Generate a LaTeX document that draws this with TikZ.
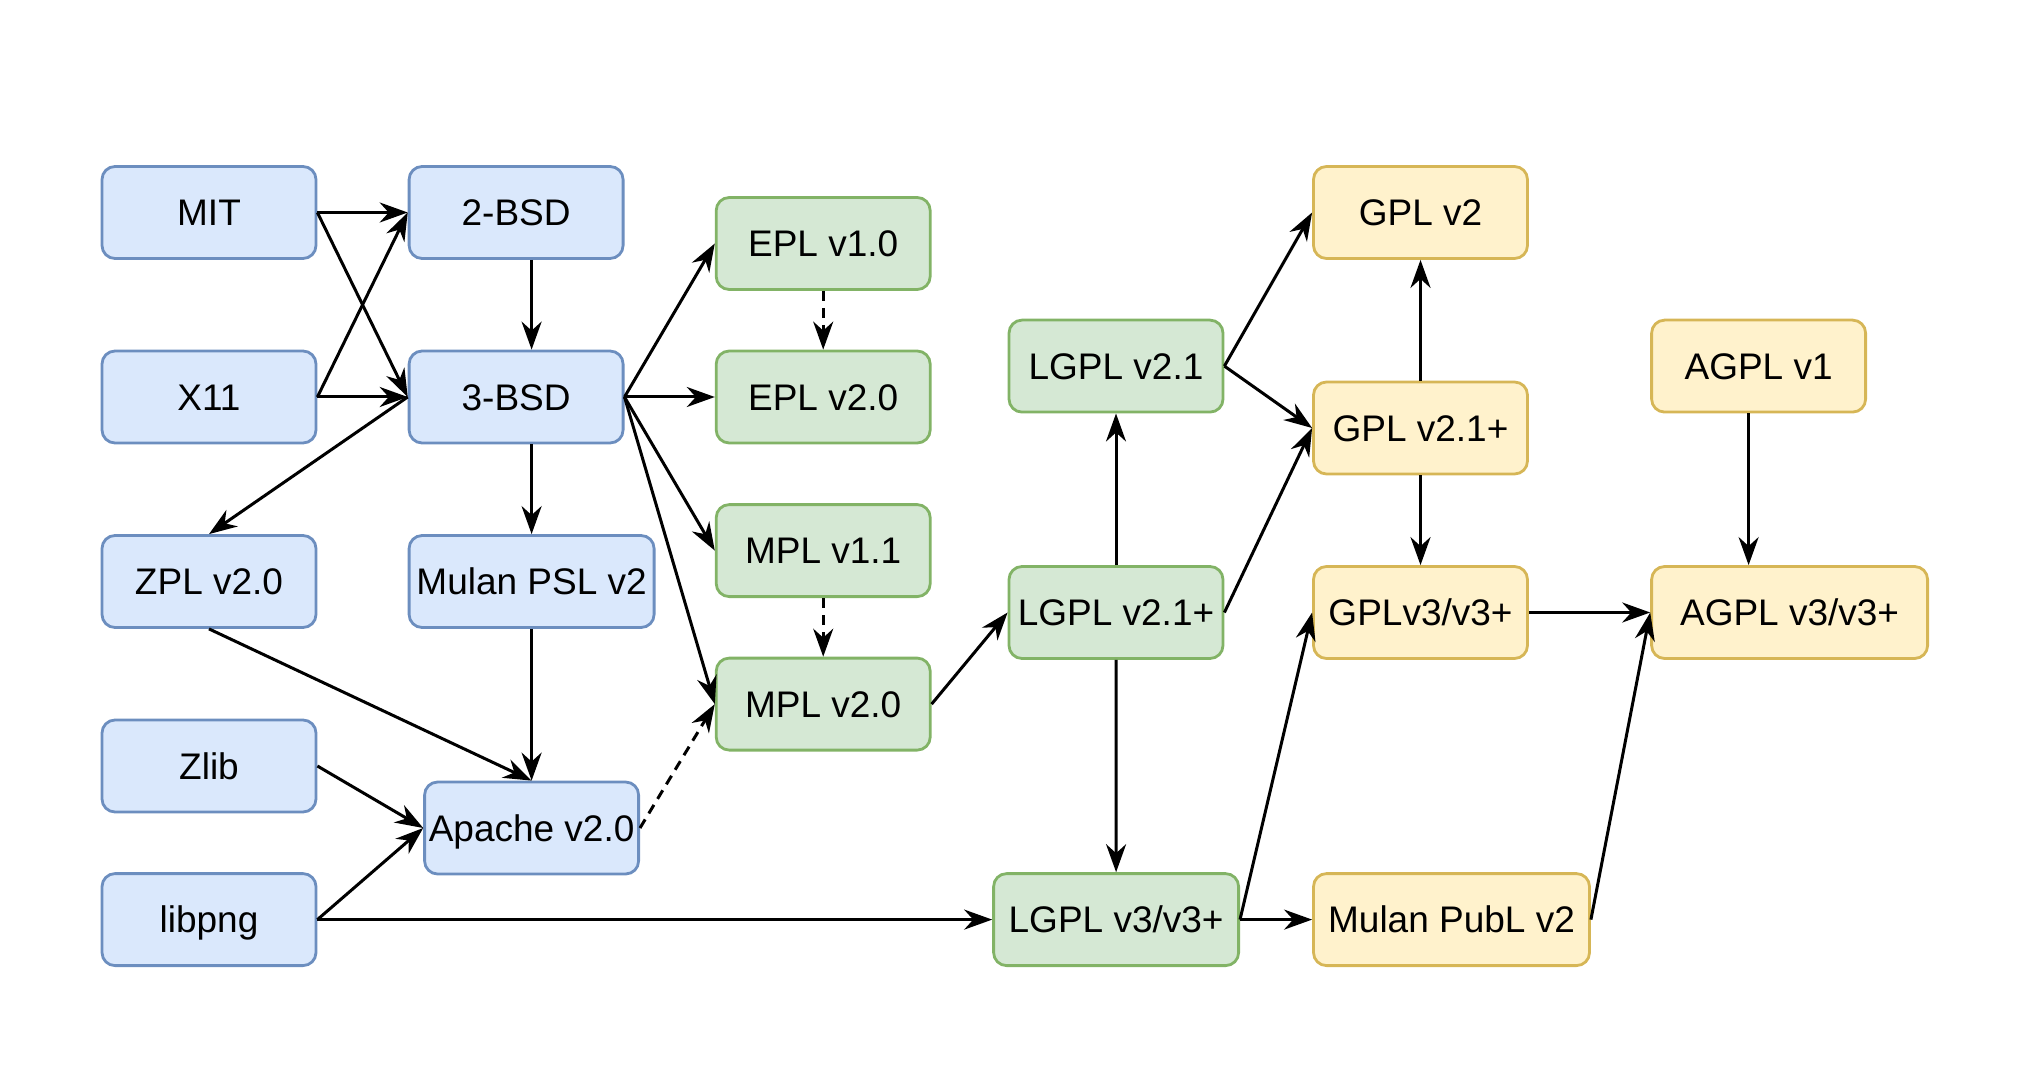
\documentclass[tikz,border=0pt]{standalone}
\usepackage{fontspec}
\setmainfont{Liberation Sans}
\usetikzlibrary{arrows.meta}
\definecolor{bfill}{HTML}{DAE8FC}
\definecolor{bline}{HTML}{6C8EBF}
\definecolor{gfill}{HTML}{D5E8D4}
\definecolor{gline}{HTML}{82B366}
\definecolor{yfill}{HTML}{FFF2CC}
\definecolor{yline}{HTML}{D6B656}
\begin{document}
\begin{tikzpicture}[x=0.5pt,y=-0.5pt,
  box/.style={draw, rounded corners=6.5pt, line width=1.4pt, minimum height=46pt,
    minimum width=107pt, inner sep=0pt, anchor=north west,
    text height=13.25pt, text depth=0pt,
    font=\fontsize{18.5pt}{22pt}\selectfont},
  bluebox/.style={box, fill=bfill, draw=bline},
  greenbox/.style={box, fill=gfill, draw=gline},
  yellowbox/.style={box, fill=yfill, draw=yline},
  wide/.style={minimum width=122.5pt},
  wider/.style={minimum width=138pt},
  arr/.style={-{Stealth[length=14pt,width=10pt,inset=4.5pt]}, line width=1.5pt},
  dsh/.style={arr, dash pattern=on 5pt off 3.5pt}]
\useasboundingbox (0,0) rectangle (2023,1069);
% blue column
\node[bluebox] (mit) at (100.6,165.1) {MIT};
\node[bluebox] (bsd2) at (407.7,165.1) {2-BSD};
\node[bluebox] (x11) at (100.6,349.6) {X11};
\node[bluebox] (bsd3) at (407.7,349.6) {3-BSD};
\node[bluebox] (zpl) at (100.6,534.1) {ZPL v2.0};
\node[bluebox,wide] (mulanpsl) at (407.7,534.1) {Mulan PSL v2};
\node[bluebox] (zlib) at (100.6,718.6) {Zlib};
\node[bluebox] (apache) at (423.2,780.6) {Apache v2.0};
\node[bluebox] (libpng) at (100.6,872.2) {libpng};
% green
\node[greenbox] (epl1) at (714.8,196.1) {EPL v1.0};
\node[greenbox] (epl2) at (714.8,349.6) {EPL v2.0};
\node[greenbox] (mpl11) at (714.8,503.2) {MPL v1.1};
\node[greenbox] (mpl2) at (714.8,656.7) {MPL v2.0};
\node[greenbox] (lgpl21) at (1007.6,318.7) {LGPL v2.1};
\node[greenbox] (lgpl21p) at (1007.6,565.1) {LGPL v2.1+};
\node[greenbox,wide] (lgpl3) at (992.2,872.2) {LGPL v3/v3+};
% yellow
\node[yellowbox] (gpl2) at (1312.1,165.1) {GPL v2};
\node[yellowbox] (gpl21p) at (1312.1,380.6) {GPL v2.1+};
\node[yellowbox] (gpl3) at (1312.1,565.1) {GPLv3/v3+};
\node[yellowbox,wider] (mulanpubl) at (1312.1,872.2) {Mulan PubL v2};
\node[yellowbox] (agpl1) at (1650.2,318.7) {AGPL v1};
\node[yellowbox,wider] (agpl3) at (1650.2,565.1) {AGPL v3/v3+};
% edges
\draw[arr] (mit.east) -- (bsd2.west);
\draw[arr] (mit.east) -- (bsd3.west);
\draw[arr] (x11.east) -- (bsd2.west);
\draw[arr] (x11.east) -- (bsd3.west);
\draw[arr] (bsd3.west) -- (zpl.north);
\draw[arr] (mulanpsl.north |- bsd2.south) -- (mulanpsl.north |- bsd3.north);
\draw[arr] (mulanpsl.north |- bsd3.south) -- (mulanpsl.north);
\draw[arr] (mulanpsl.south) -- (apache.north);
\draw[arr] (zpl.south) -- (apache.north);
\draw[arr] (zlib.east) -- (apache.west);
\draw[arr] (libpng.east) -- (apache.west);
\draw[arr] (libpng.east) -- (lgpl3.west);
\draw[dsh] (apache.east) -- (mpl2.west);
\draw[arr] (bsd3.east) -- (epl1.west);
\draw[arr] (bsd3.east) -- (epl2.west);
\draw[arr] (bsd3.east) -- (mpl11.west);
\draw[arr] (bsd3.east) -- (mpl2.west);
\draw[dsh] (epl1.south) -- (epl2.north);
\draw[dsh] (mpl11.south) -- (mpl2.north);
\draw[arr] (mpl2.east) -- (lgpl21p.west);
\draw[arr] (lgpl21p.north) -- (lgpl21.south);
\draw[arr] (lgpl21p.south) -- (lgpl3.north);
\draw[arr] (lgpl21.east) -- (gpl2.west);
\draw[arr] (lgpl21.east) -- (gpl21p.west);
\draw[arr] (lgpl21p.east) -- (gpl21p.west);
\draw[arr] (gpl21p.north) -- (gpl2.south);
\draw[arr] (gpl21p.south) -- (gpl3.north);
\draw[arr] (lgpl3.east) -- (gpl3.west);
\draw[arr] (lgpl3.east) -- (mulanpubl.west);
\draw[arr] (gpl3.east) -- (agpl3.west);
\draw[arr] ([xshift=-5pt]agpl1.south) -- ([xshift=-5pt]agpl1.south |- agpl3.north);
\draw[arr] (mulanpubl.east) -- (agpl3.west);
\end{tikzpicture}
\end{document}
